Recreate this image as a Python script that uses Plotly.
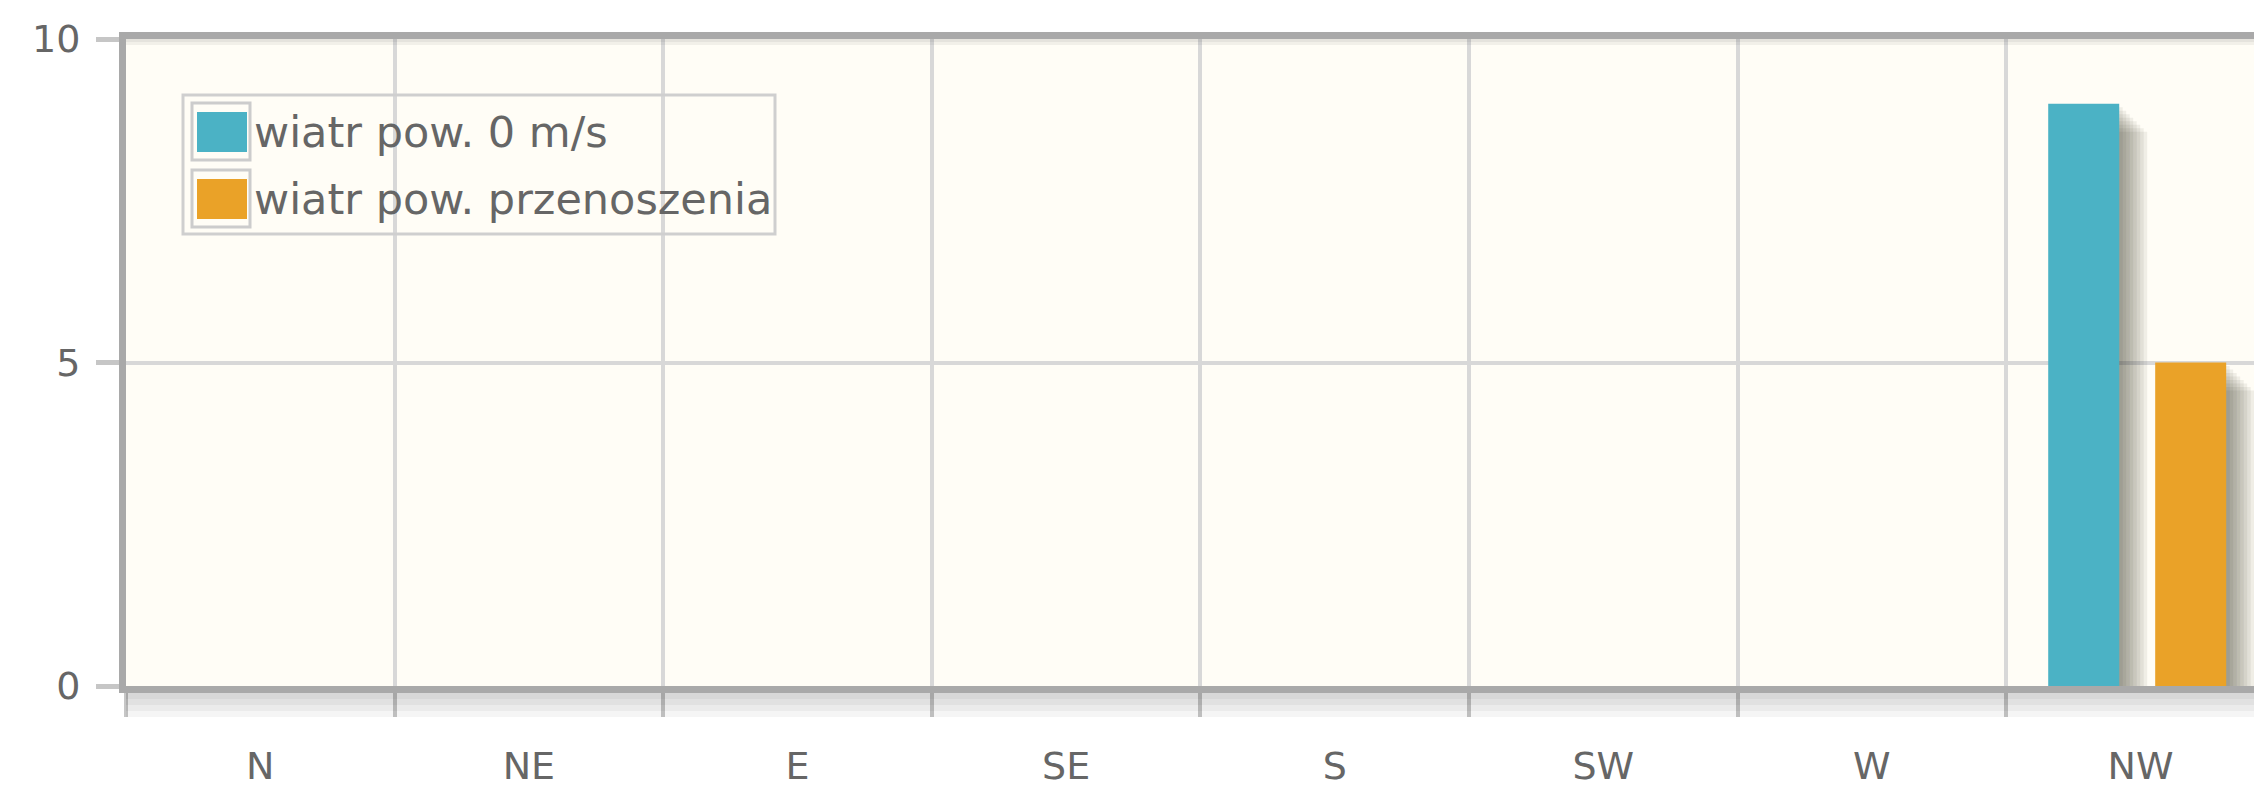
import numpy as np
import plotly.graph_objects as go

# Wind direction sectors and observation counts per series
directions = ["N", "NE", "E", "SE", "S", "SW", "W", "NW"]
calm_wind = [0, 0, 0, 0, 0, 0, 0, 9]
transfer_wind = [0, 0, 0, 0, 0, 0, 0, 5]
series_names = ["wiatr pow. 0 m/s", "wiatr pow. przenoszenia"]
series_colors = ["#4bb2c5", "#EAA228"]
y_tick_values = [0, 5, 10]

# Canvas geometry
W, H = 2254, 788
M_L, M_R, M_T, M_B = 126, 0, 39, 102
plot_w = W - M_L - M_R
plot_h = H - M_T - M_B
cat_px = 268.6                     # pixel width of one direction sector
y_max = 10
unit_px = plot_h / y_max           # pixels per count

FONT = "DejaVu Sans"
TEXT_COLOR = "#666666"
GRID_COLOR = "#d8d8d8"
BORDER_COLOR = "#a9a9a9"
PLOT_BG = "#fffdf6"

bar_width = 71 / cat_px
bar_offsets = [-0.3436, 0.0547]

fig = go.Figure()

series_values = [calm_wind, transfer_wind]

# soft drop shadows behind each bar (offset down/right in several layers)
shadow_step = 3.5
for vals, off in zip(series_values, bar_offsets):
    v = np.asarray(vals, dtype=float)
    for k in range(1, 9):
        fig.add_trace(go.Bar(
            x=directions,
            y=np.clip(v - k * shadow_step / unit_px, 0, None),
            offset=off + k * shadow_step / cat_px,
            width=bar_width,
            marker=dict(color="rgba(40,40,30,0.07)", line=dict(width=0)),
            showlegend=False,
            hoverinfo="skip",
        ))

# main bars
for name, vals, color, off in zip(series_names, series_values, series_colors, bar_offsets):
    fig.add_trace(go.Bar(
        x=directions,
        y=vals,
        name=name,
        offset=off,
        width=bar_width,
        marker=dict(color=color, line=dict(width=0)),
        showlegend=False,
    ))


def px_x(x):
    return (x - M_L) / plot_w


def px_y(y):
    return (H - M_B - y) / plot_h


shapes = []

# shadow beneath the bottom axis line
for depth in (6, 12, 18, 24):
    shapes.append(dict(
        type="rect", xref="paper", yref="paper", ysizemode="pixel", yanchor=0,
        x0=0, x1=1, y0=-7, y1=-7 - depth,
        fillcolor="rgba(0,0,0,0.04)", line=dict(width=0), layer="above",
    ))

# shadow under the top border
for depth in (3, 6):
    shapes.append(dict(
        type="rect", xref="paper", yref="paper", ysizemode="pixel", yanchor=1,
        x0=0, x1=1, y0=0, y1=-depth,
        fillcolor="rgba(0,0,0,0.05)", line=dict(width=0), layer="above",
    ))

# legend frame
legend_box = (183, 95, 775, 234)
shapes.append(dict(
    type="rect", xref="paper", yref="paper",
    x0=px_x(legend_box[0]), x1=px_x(legend_box[2]),
    y0=px_y(legend_box[3]), y1=px_y(legend_box[1]),
    line=dict(color="#cfcfcf", width=3), fillcolor="rgba(0,0,0,0)", layer="above",
))

annotations = []
row_tops = [103, 170]
for name, color, top in zip(series_names, series_colors, row_tops):
    # swatch frame
    shapes.append(dict(
        type="rect", xref="paper", yref="paper",
        x0=px_x(192), x1=px_x(250), y0=px_y(top + 57), y1=px_y(top),
        line=dict(color="#cccccc", width=3), fillcolor="rgba(0,0,0,0)", layer="above",
    ))
    # colour swatch
    shapes.append(dict(
        type="rect", xref="paper", yref="paper",
        x0=px_x(197), x1=px_x(247), y0=px_y(top + 49), y1=px_y(top + 9),
        line=dict(width=0), fillcolor=color, layer="above",
    ))
    annotations.append(dict(
        text=name, xref="paper", yref="paper",
        x=px_x(252), y=px_y(top + 29), xanchor="left", yanchor="middle",
        showarrow=False, font=dict(family=FONT, size=43, color=TEXT_COLOR),
    ))

fig.update_layout(
    width=W, height=H,
    margin=dict(l=M_L, r=M_R, t=M_T, b=M_B, pad=0),
    paper_bgcolor="white",
    plot_bgcolor=PLOT_BG,
    barmode="overlay",
    showlegend=False,
    shapes=shapes,
    annotations=annotations,
    font=dict(family=FONT, color=TEXT_COLOR),
)

fig.update_xaxes(
    type="category",
    categoryorder="array",
    categoryarray=directions,
    range=[-0.5, -0.5 + plot_w / cat_px],
    tickson="boundaries",
    ticks="outside", ticklen=24, tickwidth=4, tickcolor="#c6c6c6",
    showgrid=True, gridcolor=GRID_COLOR, gridwidth=4,
    showline=True, linecolor=BORDER_COLOR, linewidth=7, mirror=True,
    tickfont=dict(family=FONT, size=38, color=TEXT_COLOR),
    ticklabelstandoff=40,
    fixedrange=True,
)

fig.update_yaxes(
    range=[0, y_max],
    tickmode="array", tickvals=y_tick_values,
    ticks="outside", ticklen=23, tickwidth=5, tickcolor="#c6c6c6",
    showgrid=True, gridcolor=GRID_COLOR, gridwidth=4,
    zeroline=False,
    showline=True, linecolor=BORDER_COLOR, linewidth=7, mirror=False,
    tickfont=dict(family=FONT, size=38, color=TEXT_COLOR),
    ticklabelstandoff=8,
    fixedrange=True,
)

fig.write_html("out.html", config={"displayModeBar": False})
